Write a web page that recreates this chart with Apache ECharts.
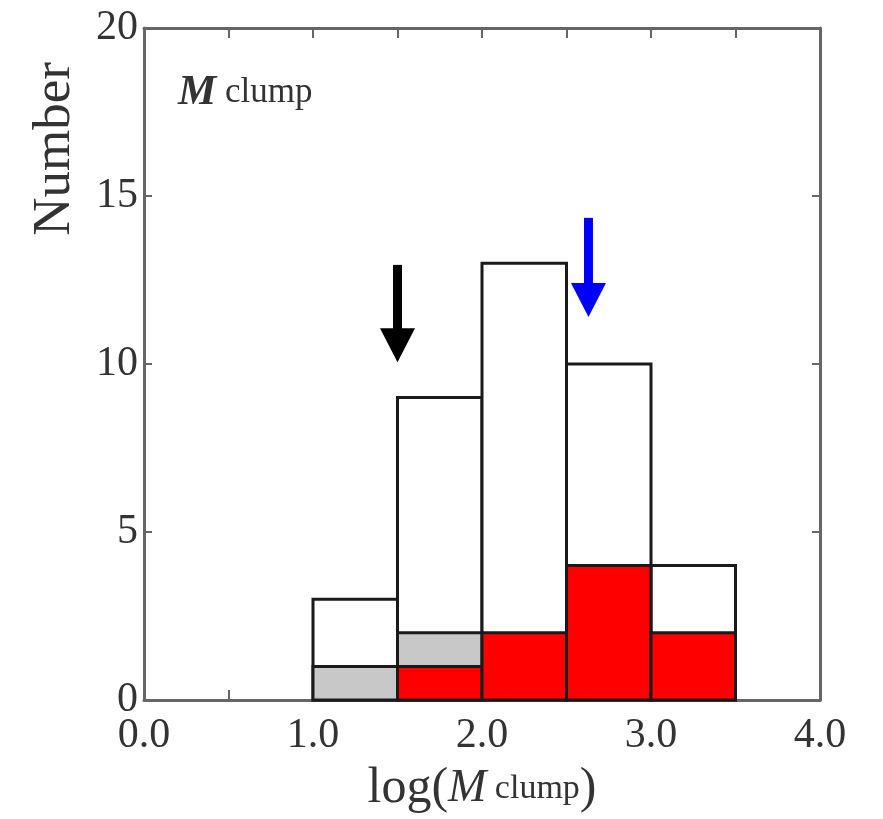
<!DOCTYPE html>
<html>
<head>
<meta charset="utf-8">
<script src="https://cdn.jsdelivr.net/npm/echarts@6/dist/echarts.min.js"></script>
<style>html,body{margin:0;padding:0;background:#fff}#c{width:883px;height:819px}</style>
</head>
<body>
<div id="c"></div>
<script>
// Histogram bins (log M_clump), bin width 0.5
const binLo = [1.0, 1.5, 2.0, 2.5, 3.0];
const binHi = [1.5, 2.0, 2.5, 3.0, 3.5];
const totalCounts = [3, 9, 13, 10, 4];
const grayCounts  = [1, 2, 0, 0, 0];
const redCounts   = [0, 1, 2, 4, 2];
// Arrows: x position, tail top value, tip value
const arrowX    = [1.5, 2.63];
const arrowTop  = [12.95, 14.35];
const arrowTip  = [10.05, 11.4];
const arrowCol  = ['#000000', '#0000ff'];
const xTicks = ['0.0', '1.0', '2.0', '3.0', '4.0'];

const FONT = "'Liberation Serif','DejaVu Serif',serif";

function binData(counts) {
  return counts.map((v, i) => [binLo[i], binHi[i], v]).filter(d => d[2] > 0);
}
function barSeries(counts, fill, z) {
  return {
    type: 'custom', z: z, silent: true,
    data: binData(counts),
    encode: { x: [0, 1], y: 2 },
    renderItem: function (params, api) {
      const p0 = api.coord([api.value(0), 0]);
      const p1 = api.coord([api.value(1), api.value(2)]);
      return {
        type: 'rect',
        shape: { x: p0[0], y: p1[1], width: p1[0] - p0[0], height: p0[1] - p1[1] },
        style: { fill: fill, stroke: '#1a1a1a', lineWidth: 3 }
      };
    }
  };
}

const option = {
  backgroundColor: '#fff',
  animation: false,
  grid: { left: 144, right: 63, top: 28, bottom: 119, containLabel: false, outerBoundsMode: 'none' },
  xAxis: [{
    type: 'value', min: 0, max: 4, interval: 1, position: 'bottom',
    axisLine: { show: true, onZero: false, lineStyle: { color: '#666', width: 3 } },
    axisTick: { show: true, inside: true, length: 10, lineStyle: { color: '#666', width: 2 } },
    minorTick: { show: true, splitNumber: 2, length: 10, lineStyle: { color: '#666', width: 2 } },
    splitLine: { show: false },
    axisLabel: { fontFamily: FONT, fontSize: 42, color: '#333', margin: 15,
      formatter: function (v) { return xTicks[Math.round(v)]; } },
    name: '{a|log(}{b|M}{c| clump}{a|)}',
    nameLocation: 'middle', nameGap: 64,
    nameTextStyle: {
      rich: {
        a: { fontFamily: FONT, fontSize: 50, color: '#333' },
        b: { fontFamily: FONT, fontSize: 46, fontStyle: 'italic', color: '#333' },
        c: { fontFamily: FONT, fontSize: 34, color: '#333' }
      }
    }
  }, {
    type: 'value', min: 0, max: 4, interval: 1, position: 'top',
    axisLine: { show: true, onZero: false, lineStyle: { color: '#666', width: 3 } },
    axisTick: { show: true, inside: true, length: 10, lineStyle: { color: '#666', width: 2 } },
    minorTick: { show: true, splitNumber: 2, length: 10, lineStyle: { color: '#666', width: 2 } },
    splitLine: { show: false }, axisLabel: { show: false }
  }],
  yAxis: [{
    type: 'value', min: 0, max: 20, interval: 5, position: 'left',
    axisLine: { show: true, onZero: false, lineStyle: { color: '#666', width: 3 } },
    axisTick: { show: true, inside: true, length: 8, lineStyle: { color: '#666', width: 2 } },
    splitLine: { show: false },
    axisLabel: { fontFamily: FONT, fontSize: 42, color: '#333', margin: 6 }
  }, {
    type: 'value', min: 0, max: 20, interval: 5, position: 'right',
    axisLine: { show: true, onZero: false, lineStyle: { color: '#666', width: 3 } },
    axisTick: { show: true, inside: true, length: 8, lineStyle: { color: '#666', width: 2 } },
    splitLine: { show: false }, axisLabel: { show: false }
  }],
  title: {
    text: '{m|M}{c| clump}', left: 173, top: 66,
    textStyle: {
      rich: {
        m: { fontFamily: FONT, fontSize: 43, fontStyle: 'italic', fontWeight: 'bold', color: '#333' },
        c: { fontFamily: FONT, fontSize: 35, fontWeight: 'normal', color: '#333' }
      }
    }
  },
  graphic: [{
    type: 'text', x: 55, y: 149, rotation: Math.PI / 2,
    style: { text: 'Number', font: '53px ' + FONT, fill: '#333', textAlign: 'center', textVerticalAlign: 'middle' }
  }],
  series: [
    barSeries(totalCounts, '#ffffff', 2),
    barSeries(grayCounts, '#c8c8c8', 3),
    barSeries(redCounts, '#ff0000', 4),
    {
      type: 'custom', z: 5, silent: true,
      data: arrowX.map((x, i) => [x, arrowTop[i], arrowTip[i], i]),
      encode: { x: 0, y: [1, 2] },
      renderItem: function (params, api) {
        const top = api.coord([api.value(0), api.value(1)]);
        const tip = api.coord([api.value(0), api.value(2)]);
        const col = arrowCol[api.value(3)];
        const headLen = 34, headHalf = 17.5, shaftHalf = 4.5;
        const cx = top[0], base = tip[1] - headLen;
        return {
          type: 'group',
          children: [{
            type: 'rect',
            shape: { x: cx - shaftHalf, y: top[1], width: shaftHalf * 2, height: base - top[1] + 1 },
            style: { fill: col }
          }, {
            type: 'polygon',
            shape: { points: [[cx - headHalf, base], [cx + headHalf, base], [cx, tip[1]]] },
            style: { fill: col }
          }]
        };
      }
    }
  ]
};

echarts.init(document.getElementById('c'), null, { renderer: 'canvas' }).setOption(option);
</script>
</body>
</html>
